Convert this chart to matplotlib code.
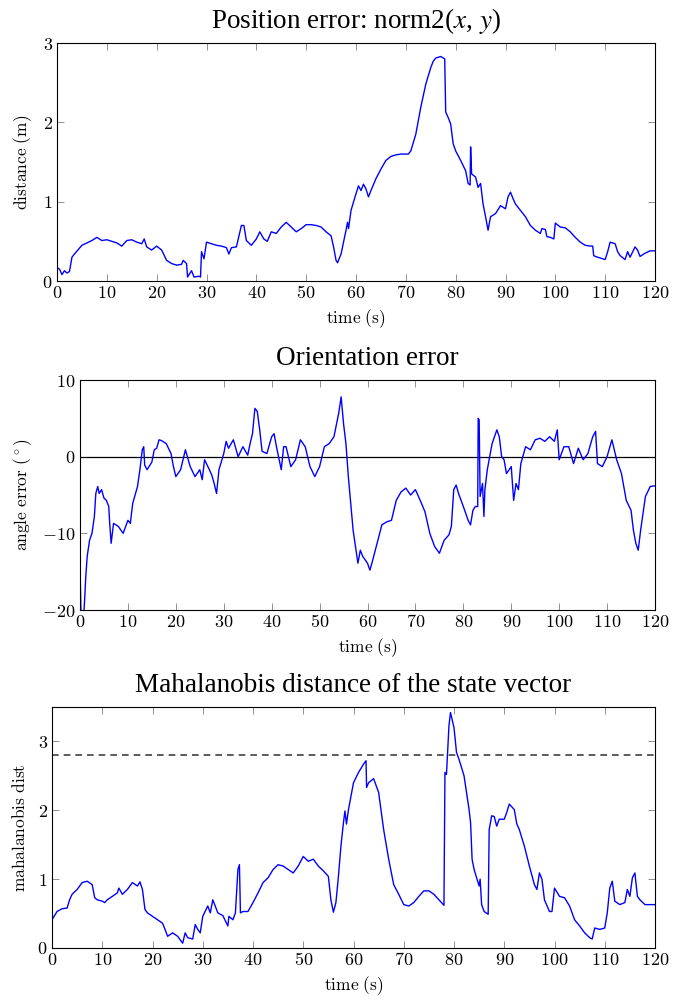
import matplotlib
matplotlib.use("Agg")
import matplotlib.pyplot as plt
from matplotlib.ticker import FuncFormatter

plt.rcParams['mathtext.fontset'] = 'cm'
plt.rcParams['font.family'] = ['Liberation Serif', 'DejaVu Serif']

# ---------------- Data: position error ----------------
pos_t = [0, 0.5, 1, 1.5, 2, 2.5, 3, 3.5, 5, 7, 8, 9, 10, 11, 12, 13, 14, 15, 16, 17, 17.5, 18,
         19, 20, 21, 22, 23, 24, 25, 25.3, 26, 26.2, 27, 27.5, 28.5, 28.8, 29, 29.5, 30, 31, 32,
         33, 34, 34.5, 35, 36, 37, 37.5, 38, 39, 40, 40.7, 41.5, 42.2, 43, 44, 45, 46, 47, 48,
         49, 50, 51, 52, 53, 54, 55, 55.5, 56, 56.3, 57, 58, 58.3, 58.5, 59, 60, 60.5, 61, 61.5,
         62, 62.5, 63, 64, 65, 66, 67, 68, 69, 70, 70.5, 71, 72, 73, 74, 75, 75.5, 76, 77, 77.8,
         78, 78.5, 79, 79.5, 80, 81, 82, 82.5, 82.9, 83, 83.2, 84, 84.5, 85, 85.5, 86, 86.5, 87,
         88, 89, 90, 90.5, 91, 91.5, 92, 93, 94, 95, 96, 97, 97.3, 98, 98.3, 99, 99.7, 100, 101,
         102, 103, 104, 105, 106, 107, 107.5, 107.7, 108, 109, 110, 110.5, 111, 112, 112.5, 113,
         114, 114.5, 115, 116, 116.5, 117, 118, 119, 120]
pos_err = [0.17, 0.15, 0.08, 0.13, 0.10, 0.12, 0.30, 0.34, 0.45, 0.51, 0.55, 0.51, 0.52, 0.50,
           0.48, 0.44, 0.51, 0.52, 0.49, 0.47, 0.53, 0.43, 0.39, 0.44, 0.39, 0.26, 0.22, 0.20,
           0.21, 0.26, 0.22, 0.05, 0.13, 0.05, 0.06, 0.05, 0.37, 0.28, 0.49, 0.47, 0.45, 0.44,
           0.42, 0.34, 0.42, 0.43, 0.70, 0.70, 0.51, 0.45, 0.53, 0.62, 0.53, 0.50, 0.62, 0.60,
           0.68, 0.74, 0.68, 0.62, 0.66, 0.71, 0.71, 0.70, 0.68, 0.62, 0.57, 0.43, 0.26, 0.23,
           0.34, 0.64, 0.74, 0.66, 0.89, 1.10, 1.20, 1.14, 1.22, 1.16, 1.06, 1.14, 1.29, 1.41,
           1.52, 1.57, 1.59, 1.60, 1.60, 1.60, 1.64, 1.85, 2.19, 2.48, 2.69, 2.77, 2.81, 2.83,
           2.80, 2.13, 2.06, 1.98, 1.73, 1.64, 1.52, 1.39, 1.23, 1.21, 1.69, 1.35, 1.31, 1.18,
           1.23, 0.97, 0.81, 0.64, 0.81, 0.85, 0.95, 0.91, 1.06, 1.12, 1.04, 0.97, 0.89, 0.81,
           0.70, 0.64, 0.60, 0.66, 0.65, 0.56, 0.55, 0.53, 0.73, 0.68, 0.67, 0.62, 0.55, 0.49,
           0.45, 0.44, 0.44, 0.32, 0.31, 0.29, 0.27, 0.37, 0.49, 0.47, 0.37, 0.32, 0.27, 0.37,
           0.30, 0.43, 0.39, 0.31, 0.35, 0.38, 0.38]

# ---------------- Data: orientation error ----------------
ori_t = [0, 0.2, 0.8, 1, 1.2, 1.5, 2, 2.5, 3, 3.3, 3.7, 4, 4.5, 5, 5.5, 6, 6.2, 6.5, 7, 8, 9,
         10, 10.5, 11, 12, 12.5, 13, 13.3, 13.5, 14, 15, 15.5, 16, 16.5, 17, 18, 19, 19.5, 20,
         21, 22, 23, 24, 25, 25.5, 26, 27, 27.5, 28, 28.5, 29, 30, 30.5, 31, 32, 33, 34, 35,
         35.5, 36, 36.5, 37, 37.5, 38, 39, 40, 40.5, 41, 42, 42.5, 43, 44, 45, 46, 47, 48, 49,
         50, 51, 52, 53, 54, 54.5, 55, 55.5, 56, 57, 58, 58.5, 59, 60, 60.5, 61, 62, 63, 64, 65,
         66, 67, 68, 69, 70, 71, 72, 73, 74, 75, 76, 77, 77.5, 78, 78.5, 79, 80, 81, 81.5, 82,
         82.5, 83, 83.1, 83.3, 83.5, 84, 84.3, 84.5, 85, 86, 87, 87.5, 88, 88.5, 89, 90, 90.5,
         91, 91.5, 92, 93, 94, 95, 96, 97, 98, 99, 99.6, 100, 101, 102, 103, 104, 105, 106, 107,
         107.6, 108, 109, 110, 111, 112, 113, 114, 115, 115.5, 116, 116.5, 117, 118, 119, 120]
ori_err = [-13.9, -20.5, -20.5, -18.3, -15.7, -13.0, -10.9, -10.0, -7.8, -4.8, -3.9, -4.8, -4.3,
           -5.4, -5.7, -6.5, -8.7, -11.3, -8.7, -9.1, -10.0, -8.3, -8.7, -6.1, -3.9, -1.7, 0.9,
           1.3, -1.1, -1.7, -0.7, 0.9, 1.1, 2.2, 2.1, 1.7, 0.4, -1.3, -2.6, -1.7, 0.9, -1.3,
           -2.6, -1.7, -3.0, -0.4, -1.7, -2.4, -3.5, -4.8, -1.7, 0.4, 2.0, 1.1, 2.2, 0.0, 1.3,
           0.2, 1.7, 3.0, 6.3, 5.9, 3.5, 0.7, 0.4, 2.6, 3.0, 1.3, -1.7, 1.3, 1.3, -1.3, -0.4,
           2.2, 1.3, -1.3, -2.6, -1.3, 1.3, 1.7, 2.6, 5.7, 7.8, 4.3, 1.7, -2.6, -9.6, -13.9,
           -12.2, -13.0, -13.9, -14.8, -13.7, -11.3, -8.9, -8.5, -8.3, -5.7, -4.6, -4.1, -5.0,
           -4.3, -5.7, -7.2, -10.0, -11.7, -12.6, -10.9, -10.2, -9.1, -4.3, -3.7, -4.8, -6.5,
           -8.3, -8.9, -7.0, -6.5, -6.5, 5.0, 4.8, -5.2, -3.5, -7.8, -4.3, -1.7, 1.7, 3.5, 2.6,
           0.0, -0.4, -2.2, -1.3, -5.7, -3.5, -4.3, -0.9, 1.3, 0.9, 2.2, 2.4, 2.0, 2.6, 2.0, 3.5,
           -0.4, 1.3, 1.3, -0.9, 1.1, -0.4, 0.4, 2.6, 3.3, -0.9, -1.3, 0.0, 2.2, -0.4, -2.2,
           -5.7, -7.0, -9.6, -11.3, -12.2, -9.6, -5.2, -3.9, -3.8]

# ---------------- Data: Mahalanobis distance ----------------
mah_t = [0, 1, 2, 3, 3.5, 4, 5, 6, 7, 8, 8.5, 9, 10, 10.5, 11, 12, 13, 13.3, 14, 15, 16, 17,
         17.5, 18, 18.5, 19, 20, 21, 22, 22.5, 23, 24, 25, 26, 26.5, 27, 28, 28.5, 29, 29.5, 30,
         31, 31.5, 32, 33, 34, 35, 35.2, 36, 36.5, 37, 37.3, 37.5, 38, 39, 40, 41, 42, 43, 44,
         45, 46, 47, 48, 49, 50, 51, 52, 53, 54, 55, 55.5, 56, 56.5, 57, 57.5, 58, 58.3, 58.6,
         59, 60, 61, 62, 62.5, 62.6, 63, 64, 65, 66, 67, 68, 69, 70, 71, 72, 73, 74, 75, 76, 77,
         78, 78.2, 78.5, 79, 79.3, 80, 80.5, 81, 82, 83, 83.3, 83.6, 84, 85, 85.2, 85.5, 86, 86.8,
         87, 87.5, 88, 88.5, 89, 90, 90.5, 91, 92, 92.5, 93, 94, 95, 96, 96.5, 97, 97.5, 98, 99,
         99.5, 100, 101, 102, 103, 104, 105, 106, 107, 107.5, 108, 109, 110, 110.5, 111, 111.5,
         112, 113, 114, 114.5, 115, 115.5, 116, 116.5, 117, 118, 119, 120]
mah_dist = [0.41, 0.53, 0.57, 0.58, 0.70, 0.78, 0.85, 0.95, 0.97, 0.92, 0.73, 0.70, 0.68, 0.66,
            0.70, 0.75, 0.80, 0.87, 0.78, 0.85, 0.95, 0.90, 0.96, 0.85, 0.56, 0.51, 0.46, 0.41,
            0.36, 0.27, 0.17, 0.22, 0.17, 0.07, 0.22, 0.15, 0.13, 0.34, 0.27, 0.22, 0.46, 0.61,
            0.51, 0.70, 0.51, 0.47, 0.32, 0.46, 0.41, 0.51, 1.14, 1.21, 0.51, 0.53, 0.53, 0.66,
            0.80, 0.95, 1.02, 1.14, 1.21, 1.19, 1.14, 1.09, 1.19, 1.33, 1.26, 1.29, 1.19, 1.12,
            1.04, 0.70, 0.52, 0.66, 1.04, 1.48, 1.82, 1.99, 1.80, 2.01, 2.40, 2.55, 2.67, 2.72,
            2.33, 2.40, 2.46, 2.26, 1.72, 1.29, 0.92, 0.78, 0.63, 0.61, 0.66, 0.75, 0.83, 0.83,
            0.78, 0.70, 0.62, 2.55, 2.52, 3.23, 3.42, 3.20, 2.84, 2.74, 2.50, 2.01, 1.82, 1.29,
            1.14, 0.90, 1.00, 0.63, 0.53, 0.49, 1.72, 1.92, 1.91, 1.77, 1.87, 1.87, 1.97, 2.09,
            2.01, 1.80, 1.72, 1.48, 1.19, 0.92, 0.85, 1.09, 1.00, 0.70, 0.53, 0.53, 0.87, 0.75,
            0.73, 0.61, 0.41, 0.32, 0.22, 0.15, 0.13, 0.29, 0.27, 0.29, 0.51, 0.87, 0.97, 0.68,
            0.63, 0.66, 0.85, 0.75, 1.02, 1.09, 0.75, 0.70, 0.63, 0.63, 0.63]
mah_threshold = 2.8

x_ticks = list(range(0, 121, 10))
pos_yticks = [0, 1, 2, 3]
ori_yticks = [-20, -10, 0, 10]
mah_yticks = [0, 1, 2, 3]

fig = plt.figure(figsize=(6.89, 10), dpi=100)

def mk_axes(rect):
    ax = fig.add_axes(rect)
    ax.tick_params(direction='in', top=True, right=True, length=5, width=0.6,
                   color='#808080', labelsize=13, pad=3)
    for s in ax.spines.values():
        s.set_linewidth(0.8)
    fmt = FuncFormatter(lambda v, p: r'$%d$' % round(v) if v >= 0 else r'$-%d$' % round(-v))
    ax.xaxis.set_major_formatter(fmt)
    ax.yaxis.set_major_formatter(fmt)
    ax.set_xlim(0, 120)
    ax.set_xticks(x_ticks)
    ax.set_xlabel(r'$\mathrm{time\ (s)}$', fontsize=12.5, labelpad=4)
    return ax

title_kw = dict(fontsize=19.5, pad=11, math_fontfamily='stix')

ax1 = mk_axes([57/689, 1 - 281/1000, 598/689, 238/1000])
ax1.plot(pos_t, pos_err, color='blue', lw=1.0)
ax1.set_ylim(0, 3)
ax1.set_yticks(pos_yticks)
ax1.set_ylabel(r'$\mathrm{distance\ (m)}$', fontsize=12.5, labelpad=6)
ax1.set_title(r'Position error: norm2($x$, $y$)', **title_kw)

ax2 = mk_axes([80/689, 1 - 610/1000, 575/689, 230/1000])
ax2.axhline(0, color='black', lw=0.9)
ax2.plot(ori_t, ori_err, color='blue', lw=1.0)
ax2.set_ylim(-20, 10)
ax2.set_yticks(ori_yticks)
ax2.set_ylabel(r'$\mathrm{angle\ error\ (^\circ)}$', fontsize=12.5, labelpad=6)
ax2.set_title('Orientation error', **title_kw)

ax3 = mk_axes([52/689, 1 - 948/1000, 603/689, 241/1000])
ax3.axhline(mah_threshold, color='#404040', lw=1.2, dashes=(4, 3))
ax3.plot(mah_t, mah_dist, color='blue', lw=1.0)
ax3.set_ylim(0, 3.5)
ax3.set_yticks(mah_yticks)
ax3.set_ylabel(r'$\mathrm{mahalanobis\ dist}$', fontsize=12.5, labelpad=6)
ax3.set_title('Mahalanobis distance of the state vector', **title_kw)

fig.savefig('out.png', dpi=100)
